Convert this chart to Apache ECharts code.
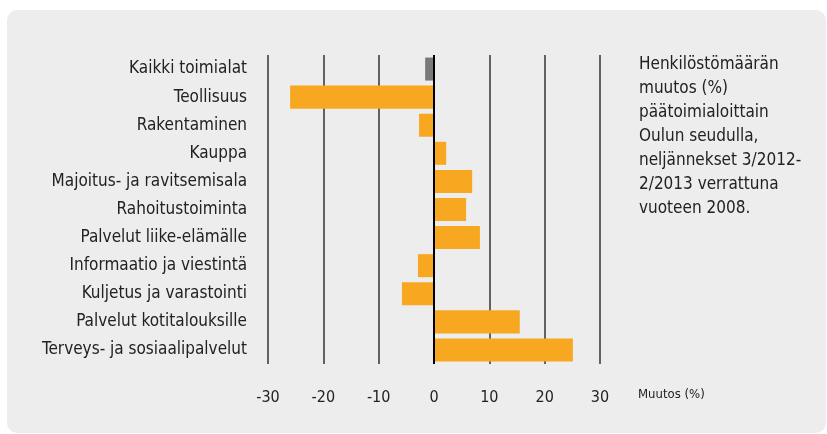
<!DOCTYPE html>
<html>
<head>
<meta charset="utf-8">
<script src="https://cdn.jsdelivr.net/npm/echarts@6/dist/echarts.min.js"></script>
<style>
  html, body { margin: 0; padding: 0; background: #ffffff; }
  #chart { width: 827px; height: 434px; }
</style>
</head>
<body>
<div id="chart"></div>
<script>
// toimialat ylhäältä alas
var categories = [
  "Kaikki toimialat",
  "Teollisuus",
  "Rakentaminen",
  "Kauppa",
  "Majoitus- ja ravitsemisala",
  "Rahoitustoiminta",
  "Palvelut liike-elämälle",
  "Informaatio ja viestintä",
  "Kuljetus ja varastointi",
  "Palvelut kotitalouksille",
  "Terveys- ja sosiaalipalvelut"
];
var muutos = [-1.6, -26.0, -2.7, 2.2, 6.9, 5.8, 8.3, -2.9, -5.8, 15.5, 25.1];
var xTicks = [-30, -20, -10, 0, 10, 20, 30];

var FONT = '"DejaVu Sans Condensed", "Liberation Sans", sans-serif';

var chart = echarts.init(document.getElementById("chart"));

var barData = muutos.map(function (v, i) {
  return {
    value: v,
    itemStyle: { color: i === 0 ? "#7a7a7a" : "#f8a820" }
  };
});

chart.setOption({
  animation: false,
  graphic: [
    {
      type: "rect",
      z: -10,
      shape: { x: 7, y: 10, width: 819, height: 423, r: 10 },
      style: { fill: "#ededed" }
    },
    {
      type: "text",
      left: 639,
      top: 53,
      style: {
        text: "Henkilöstömäärän\nmuutos (%)\npäätoimialoittain\nOulun seudulla,\nneljännekset 3/2012-\n2/2013 verrattuna\nvuoteen 2008.",
        font: "17px " + FONT,
        lineHeight: 24,
        fill: "#222222"
      }
    },
    {
      type: "text",
      left: 638,
      top: 388,
      style: {
        text: "Muutos (%)",
        font: "13px " + FONT,
        fill: "#222222"
      }
    }
  ],
  grid: {
    left: 268,
    right: 227,
    top: 55,
    height: 309,
    containLabel: false
  },
  xAxis: {
    type: "value",
    min: xTicks[0],
    max: xTicks[xTicks.length - 1],
    interval: 10,
    axisLine: { show: false },
    axisTick: { show: false },
    splitLine: { lineStyle: { color: "#333333", width: 1.5 } },
    axisLabel: {
      margin: 26,
      color: "#222222",
      fontSize: 16,
      fontFamily: FONT
    }
  },
  yAxis: {
    type: "category",
    inverse: true,
    data: categories,
    axisLine: { show: false, onZero: false },
    axisTick: { show: false },
    splitLine: { show: false },
    axisLabel: {
      margin: 21,
      color: "#222222",
      fontSize: 17,
      fontFamily: FONT
    }
  },
  series: [
    {
      type: "bar",
      data: barData,
      barCategoryGap: "18%",
      markLine: {
        silent: true,
        symbol: "none",
        label: { show: false },
        lineStyle: { color: "#000000", width: 2, type: "solid" },
        data: [{ xAxis: 0 }]
      }
    }
  ]
});
</script>
</body>
</html>
